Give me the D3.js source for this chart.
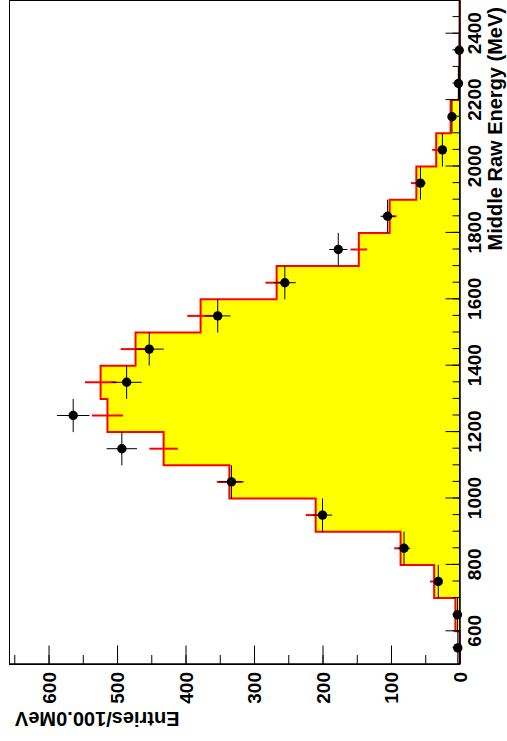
<!DOCTYPE html>
<html>
<head>
<meta charset="utf-8">
<script src="https://cdn.jsdelivr.net/npm/d3@7"></script>
<style>
  html, body { margin: 0; padding: 0; background: #fff; }
  svg { display: block; }
  .tick text { font-family: 'Liberation Sans', Arial, sans-serif; font-weight: bold; font-size: 19px; fill: #000; }
  .axisTitle { font-family: 'Liberation Sans', Arial, sans-serif; font-weight: bold; font-size: 20px; fill: #000; }
</style>
</head>
<body>
<svg id="chart" width="507" height="741"></svg>
<script>
// bins of 100 MeV (low edges)
const binLow = [500, 600, 700, 800, 900, 1000, 1100, 1200, 1300, 1400,
                1500, 1600, 1700, 1800, 1900, 2000, 2100, 2200, 2300, 2400];
const binWidth = 100;
// yellow histogram (red outline + red error bars)
const histCounts = [0, 6, 37, 86, 210, 336, 432, 514, 524, 473,
                    378, 267, 147, 102, 63, 34, 13, 1, 0, 0];
// black points
const dataCounts = [2.5, 3, 31, 81, 200, 333, 493, 564, 486, 453,
                    353, 255, 177, 105, 57, 25, 11, 1.5, 0.4, 0];

const energyTicks = [600, 800, 1000, 1200, 1400, 1600, 1800, 2000, 2200, 2400];
const countTicks = [0, 100, 200, 300, 400, 500, 600];

const svg = d3.select('#chart');

// the whole canvas is drawn as a normal plot and turned 90deg counter-clockwise
const W = 741;
const plot = svg.append('g')
  .attr('transform', `translate(0,${W}) rotate(-90)`);

const x = d3.scaleLinear().domain([500, 2500]).range([76.5, 740.5]);
const y = d3.scaleLinear().domain([0, 657]).range([459.5, 9.5]);

// histogram
const stepPts = [[x(500), y(0)]];
binLow.forEach((lo, i) => {
  stepPts.push([x(lo), y(histCounts[i])]);
  stepPts.push([x(lo + binWidth), y(histCounts[i])]);
});
stepPts.push([x(2500), y(0)]);

plot.append('path')
  .attr('d', d3.line()(stepPts) + 'Z')
  .attr('fill', '#ffff00')
  .attr('stroke', 'none');

plot.append('path')
  .attr('d', d3.line()(stepPts))
  .attr('fill', 'none')
  .attr('stroke', '#ff0000')
  .attr('stroke-width', 2);

// red error bars of the histogram
plot.append('g').selectAll('line')
  .data(binLow.map((lo, i) => ({ lo, v: histCounts[i] })).filter(d => d.v > 0))
  .enter()
  .append('line')
  .attr('x1', d => x(d.lo + binWidth / 2))
  .attr('x2', d => x(d.lo + binWidth / 2))
  .attr('y1', d => y(d.v - Math.sqrt(d.v)))
  .attr('y2', d => y(d.v + Math.sqrt(d.v)))
  .attr('stroke', '#ff0000')
  .attr('stroke-width', 2);

// black points with errors
const pts = binLow.map((lo, i) => ({ lo, v: dataCounts[i] })).filter(d => d.v > 0);
const pg = plot.append('g');
pg.selectAll('line.ex')
  .data(pts)
  .enter()
  .append('line')
  .attr('class', 'ex')
  .attr('x1', d => x(d.lo))
  .attr('x2', d => x(d.lo + binWidth))
  .attr('y1', d => y(d.v))
  .attr('y2', d => y(d.v))
  .attr('stroke', '#000')
  .attr('stroke-width', 1);
pg.selectAll('line.ey')
  .data(pts)
  .enter()
  .append('line')
  .attr('class', 'ey')
  .attr('x1', d => x(d.lo + binWidth / 2))
  .attr('x2', d => x(d.lo + binWidth / 2))
  .attr('y1', d => y(d.v - Math.sqrt(d.v)))
  .attr('y2', d => y(d.v + Math.sqrt(d.v)))
  .attr('stroke', '#000')
  .attr('stroke-width', 1);
pg.selectAll('circle')
  .data(pts)
  .enter()
  .append('circle')
  .attr('cx', d => x(d.lo + binWidth / 2))
  .attr('cy', d => y(d.v))
  .attr('r', 4.7)
  .attr('fill', '#000');

// frame
plot.append('rect')
  .attr('x', x(500))
  .attr('y', y(657))
  .attr('width', x(2500) - x(500))
  .attr('height', y(0) - y(657))
  .attr('fill', 'none')
  .attr('stroke', '#000')
  .attr('stroke-width', 1);

// energy axis
plot.append('g')
  .attr('transform', `translate(0,${y(0)})`)
  .call(d3.axisBottom(x).tickValues(d3.range(550, 2500, 50)).tickSizeInner(-7).tickSizeOuter(0).tickFormat(''));
plot.append('g')
  .attr('transform', `translate(0,${y(0)})`)
  .call(d3.axisBottom(x).tickValues(energyTicks).tickSizeInner(-14).tickSizeOuter(0)
    .tickPadding(8.5).tickFormat(d3.format('d')));

// count axis
plot.append('g')
  .attr('transform', `translate(${x(500)},0)`)
  .call(d3.axisLeft(y).tickValues(d3.range(50, 657, 50)).tickSizeInner(-9.5).tickSizeOuter(0).tickFormat(''));
plot.append('g')
  .attr('transform', `translate(${x(500)},0)`)
  .call(d3.axisLeft(y).tickValues(countTicks).tickSizeInner(-19).tickSizeOuter(0)
    .tickPadding(7.5).tickFormat(d3.format('d')))
  .selectAll('text')
  .attr('dy', '0.35em');

plot.selectAll('.domain').attr('stroke', '#000');
plot.selectAll('.tick line').attr('stroke', '#000');

// titles
plot.append('text')
  .attr('class', 'axisTitle')
  .attr('x', 734)
  .attr('y', 502)
  .attr('text-anchor', 'end')
  .text('Middle Raw Energy (MeV)');

plot.append('text')
  .attr('class', 'axisTitle')
  .attr('transform', 'translate(29,15) rotate(-90)')
  .attr('text-anchor', 'end')
  .text('Entries/100.0MeV');
</script>
</body>
</html>
